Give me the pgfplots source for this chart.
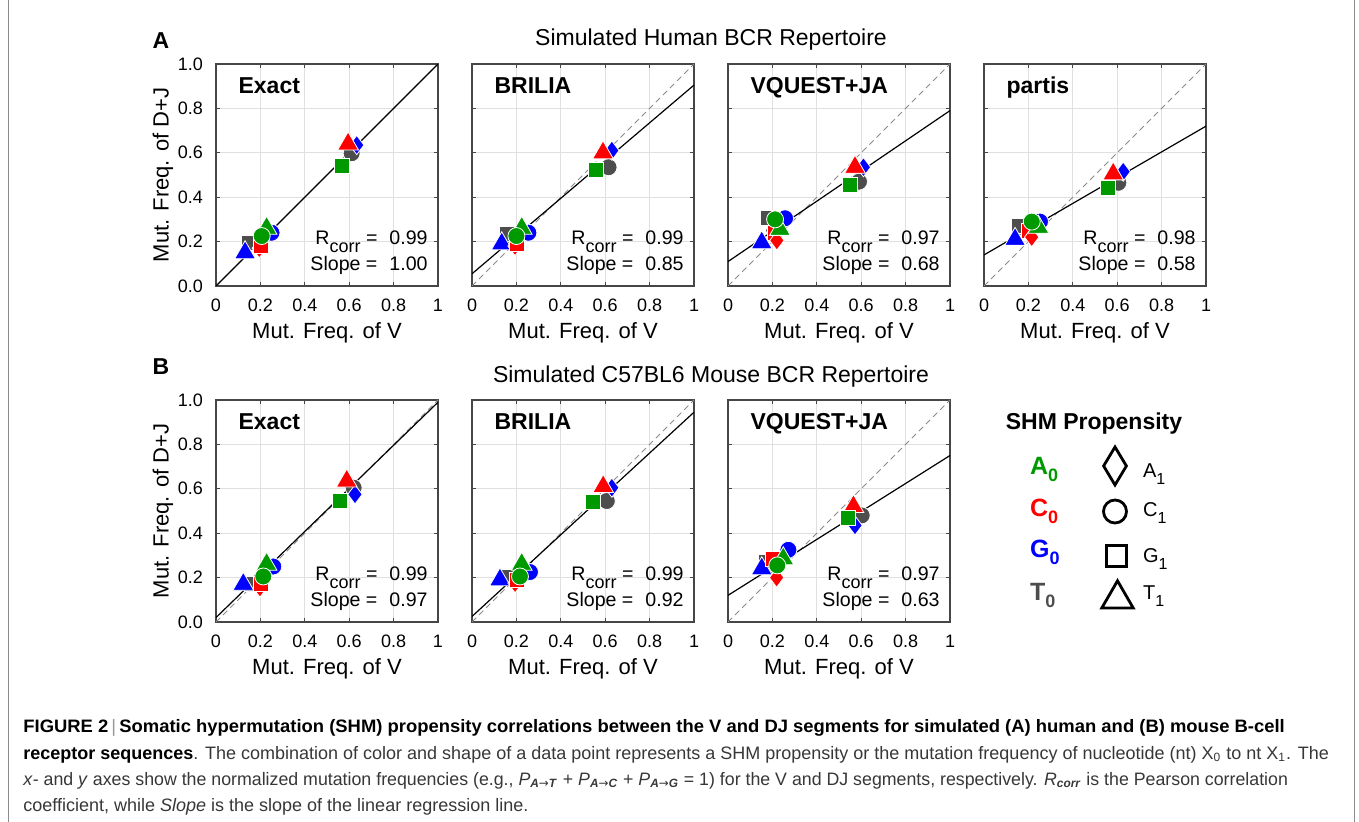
\documentclass[border=0pt]{standalone}
\usepackage{pgfplots}
\pgfplotsset{compat=1.18}
\usepackage{fontspec}
\setmainfont{Liberation Sans}
\newfontfamily\dejavu{DejaVu Sans}
\definecolor{cA}{RGB}{0,153,0}
\definecolor{cC}{RGB}{255,0,0}
\definecolor{cG}{RGB}{0,0,255}
\definecolor{cT}{RGB}{77,77,77}
\definecolor{axgray}{RGB}{70,70,70}
\definecolor{capgray}{RGB}{55,55,55}
\def\msC{4.25pt}
\def\msS{3.75pt}
\def\msD{4.8pt}
\def\msT{6pt}
\pgfplotsset{
  panel/.style={
    scale only axis, width=111pt, height=111pt, anchor=south west,
    xmin=0, xmax=1, ymin=0, ymax=1,
    xtick={0,0.2,0.4,0.6,0.8,1}, ytick={0,0.2,0.4,0.6,0.8,1},
    xticklabels={0,0.2,0.4,0.6,0.8,1}, yticklabels={},
    grid=major, major grid style={black!12, line width=0.5pt},
    axis line style={axgray, line width=0.6pt},
    major tick style={axgray, line width=0.5pt}, major tick length=2pt,
    tick label style={font=\fontsize{9}{10}\selectfont},
    xticklabel style={yshift=-3pt},
    yticklabel style={xshift=-3pt},
    /pgf/number format/assume math mode=true,
    xlabel={Mut. Freq. of V},
    label style={font=\fontsize{11}{12}\selectfont},
    xlabel style={at={(axis description cs:0.5,-0.212)}, anchor=center},
    ylabel style={at={(axis description cs:-0.239,0.5)}, anchor=center},
  },
  first/.style={yticklabels={0.0,0.2,0.4,0.6,0.8,1.0}, ylabel={Mut. Freq. of D+J}},
  refdash/.style={black!45, dash pattern=on 3pt off 2pt, line width=0.5pt, no marks, forget plot},
  reg/.style={black, line width=0.6pt, no marks, forget plot},
  shm/.style={only marks, scatter, scatter src=explicit symbolic,
    scatter/classes={
      AC={mark=*,mark size=\msC,draw=white,fill=cA,line width=0.4pt},
      AG={mark=square*,mark size=\msS,draw=white,fill=cA,line width=0.4pt},
      AT={mark=triangle*,mark size=\msT,draw=white,fill=cA,line width=0.4pt},
      CA={mark=diamond*,mark size=\msD,draw=white,fill=cC,line width=0.4pt},
      CG={mark=square*,mark size=\msS,draw=white,fill=cC,line width=0.4pt},
      CT={mark=triangle*,mark size=\msT,draw=white,fill=cC,line width=0.4pt},
      GA={mark=diamond*,mark size=\msD,draw=white,fill=cG,line width=0.4pt},
      GC={mark=*,mark size=\msC,draw=white,fill=cG,line width=0.4pt},
      GT={mark=triangle*,mark size=\msT,draw=white,fill=cG,line width=0.4pt},
      TA={mark=diamond*,mark size=\msD,draw=white,fill=cT,line width=0.4pt},
      TC={mark=*,mark size=\msC,draw=white,fill=cT,line width=0.4pt},
      TG={mark=square*,mark size=\msS,draw=white,fill=cT,line width=0.4pt}}},
}
\tikzset{
  pname/.style={anchor=base west, inner sep=0pt, font=\bfseries\fontsize{11.5}{12}\selectfont},
  stat/.style={anchor=base east, inner sep=0pt, font=\fontsize{9.8}{10}\selectfont},
}
\newcommand\Rc{R\raisebox{-4pt}{\fontsize{9}{9}\selectfont corr}}
\newcommand\arr{{\dejavu →}}
\begin{document}
\begin{tikzpicture}[x=0.5pt,y=-0.5pt]
\path[use as bounding box] (0,0) rectangle (1359,822);
\draw[black!45, line width=0.5pt] (8,-10) -- (8,830);
\draw[black!45, line width=0.5pt] (1354,-10) -- (1354,830);

\node[font=\bfseries\fontsize{11.5}{12}\selectfont] at (161,41) {A};
\node[font=\bfseries\fontsize{11.5}{12}\selectfont] at (161,367) {B};
\node[font=\fontsize{11.5}{12}\selectfont] at (711,40) {Simulated Human BCR Repertoire};
\node[font=\fontsize{11.5}{12}\selectfont] at (711,377) {Simulated C57BL6 Mouse BCR Repertoire};

% ---------- Human: Exact
\begin{axis}[panel, first, at={(108pt,-143pt)}]
\addplot[refdash] coordinates {(0,0) (1,1)};
\addplot[reg] coordinates {(0,0) (1,1)};
\addplot[shm] table[meta=c] {
x y c
0.20 0.20 TA
0.611 0.598 TC
0.15 0.195 TG
0.634 0.635 GA
0.25 0.24 GC
0.131 0.15 GT
0.195 0.17 CA
0.20 0.18 CG
0.595 0.64 CT
0.228 0.26 AT
0.206 0.225 AC
0.566 0.54 AG
};
\node[pname] at (rel axis cs:0.1,0.865) {Exact};
\node[stat] at (rel axis cs:0.955,0.188) {\Rc\ =\hspace{6pt}0.99};
\node[stat] at (rel axis cs:0.955,0.072) {Slope =\hspace{6pt}1.00};
\end{axis}

% ---------- Human: BRILIA
\begin{axis}[panel, at={(236pt,-143pt)}]
\addplot[refdash] coordinates {(0,0) (1,1)};
\addplot[reg] coordinates {(0,0.055) (1,0.905)};
\addplot[shm] table[meta=c] {
x y c
0.18 0.21 TA
0.615 0.535 TC
0.156 0.235 TG
0.63 0.61 GA
0.254 0.24 GC
0.134 0.19 GT
0.194 0.18 CA
0.20 0.19 CG
0.59 0.60 CT
0.224 0.26 AT
0.20 0.225 AC
0.56 0.525 AG
};
\node[pname] at (rel axis cs:0.1,0.865) {BRILIA};
\node[stat] at (rel axis cs:0.955,0.188) {\Rc\ =\hspace{6pt}0.99};
\node[stat] at (rel axis cs:0.955,0.072) {Slope =\hspace{6pt}0.85};
\end{axis}

% ---------- Human: VQUEST+JA
\begin{axis}[panel, at={(364pt,-143pt)}]
\addplot[refdash] coordinates {(0,0) (1,1)};
\addplot[reg] coordinates {(0,0.11) (1,0.79)};
\addplot[shm] table[meta=c] {
x y c
0.20 0.25 TA
0.59 0.47 TC
0.18 0.305 TG
0.61 0.535 GA
0.257 0.305 GC
0.152 0.195 GT
0.21 0.24 CG
0.22 0.205 CA
0.572 0.535 CT
0.234 0.255 AT
0.212 0.30 AC
0.55 0.455 AG
};
\node[pname] at (rel axis cs:0.1,0.865) {VQUEST+JA};
\node[stat] at (rel axis cs:0.955,0.188) {\Rc\ =\hspace{6pt}0.97};
\node[stat] at (rel axis cs:0.955,0.072) {Slope =\hspace{6pt}0.68};
\end{axis}

% ---------- Human: partis
\begin{axis}[panel, at={(492pt,-143pt)}]
\addplot[refdash] coordinates {(0,0) (1,1)};
\addplot[reg] coordinates {(0,0.14) (1,0.72)};
\addplot[shm] table[meta=c] {
x y c
0.19 0.25 TA
0.605 0.465 TC
0.155 0.27 TG
0.627 0.515 GA
0.252 0.29 GC
0.14 0.21 GT
0.20 0.25 CG
0.215 0.22 CA
0.582 0.505 CT
0.245 0.265 AT
0.215 0.29 AC
0.56 0.44 AG
};
\node[pname] at (rel axis cs:0.1,0.865) {partis};
\node[stat] at (rel axis cs:0.955,0.188) {\Rc\ =\hspace{6pt}0.98};
\node[stat] at (rel axis cs:0.955,0.072) {Slope =\hspace{6pt}0.58};
\end{axis}

% ---------- Mouse: Exact
\begin{axis}[panel, first, at={(108pt,-311pt)}]
\addplot[refdash] coordinates {(0,0) (1,1)};
\addplot[reg] coordinates {(0,0.02) (1,0.99)};
\addplot[shm] table[meta=c] {
x y c
0.18 0.18 TA
0.62 0.605 TC
0.16 0.17 TG
0.626 0.575 GA
0.258 0.25 GC
0.123 0.17 GT
0.198 0.155 CA
0.20 0.17 CG
0.589 0.635 CT
0.228 0.26 AT
0.213 0.205 AC
0.559 0.545 AG
};
\node[pname] at (rel axis cs:0.1,0.865) {Exact};
\node[stat] at (rel axis cs:0.955,0.188) {\Rc\ =\hspace{6pt}0.99};
\node[stat] at (rel axis cs:0.955,0.072) {Slope =\hspace{6pt}0.97};
\end{axis}

% ---------- Mouse: BRILIA
\begin{axis}[panel, at={(236pt,-311pt)}]
\addplot[refdash] coordinates {(0,0) (1,1)};
\addplot[reg] coordinates {(0,0.025) (1,0.945)};
\addplot[shm] table[meta=c] {
x y c
0.18 0.20 TA
0.607 0.545 TC
0.155 0.205 TG
0.63 0.605 GA
0.261 0.225 GC
0.126 0.19 GT
0.194 0.175 CA
0.20 0.19 CG
0.591 0.61 CT
0.224 0.26 AT
0.216 0.205 AC
0.546 0.54 AG
};
\node[pname] at (rel axis cs:0.1,0.865) {BRILIA};
\node[stat] at (rel axis cs:0.955,0.188) {\Rc\ =\hspace{6pt}0.99};
\node[stat] at (rel axis cs:0.955,0.072) {Slope =\hspace{6pt}0.92};
\end{axis}

% ---------- Mouse: VQUEST+JA
\begin{axis}[panel, at={(364pt,-311pt)}]
\addplot[refdash] coordinates {(0,0) (1,1)};
\addplot[reg] coordinates {(0,0.12) (1,0.75)};
\addplot[shm] table[meta=c] {
x y c
0.19 0.25 TA
0.602 0.48 TC
0.17 0.27 TG
0.572 0.435 GA
0.272 0.325 GC
0.152 0.24 GT
0.20 0.285 CG
0.219 0.20 CA
0.565 0.52 CT
0.249 0.285 AT
0.222 0.255 AC
0.542 0.47 AG
};
\node[pname] at (rel axis cs:0.1,0.865) {VQUEST+JA};
\node[stat] at (rel axis cs:0.955,0.188) {\Rc\ =\hspace{6pt}0.97};
\node[stat] at (rel axis cs:0.955,0.072) {Slope =\hspace{6pt}0.63};
\end{axis}

% ---------- Legend (hidden axis, pixel units)
\begin{axis}[at={(495pt,-310pt)}, anchor=south west, scale only axis,
  width=105pt, height=110pt, xmin=990, xmax=1200, ymin=-620, ymax=-400,
  hide axis, clip=false]
\addplot[black, line width=1.4pt, only marks, mark=diamond, mark size=9.5pt, mark options={xscale=0.8}] coordinates {(1115,-466)};
\addplot[black, line width=1.4pt, only marks, mark=o, mark size=5.75pt] coordinates {(1115,-511.5)};
\addplot[black, line width=1.4pt, only marks, mark=square, mark size=5.1pt] coordinates {(1116.5,-556)};
\addplot[black, line width=1.4pt, only marks, mark=triangle, mark size=9.1pt] coordinates {(1117.5,-599)};
\node[font=\bfseries\fontsize{11.5}{12}\selectfont] at (axis cs:1094,-424) {SHM Propensity};
\node[anchor=base west, font=\bfseries\fontsize{12.5}{13}\selectfont, text=cA] at (axis cs:1023,-475) {A\raisebox{-3.5pt}{\fontsize{9}{9}\selectfont 0}};
\node[anchor=base west, font=\bfseries\fontsize{12.5}{13}\selectfont, text=cC] at (axis cs:1023,-517) {C\raisebox{-3.5pt}{\fontsize{9}{9}\selectfont 0}};
\node[anchor=base west, font=\bfseries\fontsize{12.5}{13}\selectfont, text=cG] at (axis cs:1023,-558) {G\raisebox{-3.5pt}{\fontsize{9}{9}\selectfont 0}};
\node[anchor=base west, font=\bfseries\fontsize{12.5}{13}\selectfont, text=cT] at (axis cs:1023,-601) {T\raisebox{-3.5pt}{\fontsize{9}{9}\selectfont 0}};
\node[anchor=base west, font=\fontsize{10}{11}\selectfont] at (axis cs:1136,-478) {A\raisebox{-3.5pt}{\fontsize{8}{8}\selectfont 1}};
\node[anchor=base west, font=\fontsize{10}{11}\selectfont] at (axis cs:1136,-517) {C\raisebox{-3.5pt}{\fontsize{8}{8}\selectfont 1}};
\node[anchor=base west, font=\fontsize{10}{11}\selectfont] at (axis cs:1136,-563) {G\raisebox{-3.5pt}{\fontsize{8}{8}\selectfont 1}};
\node[anchor=base west, font=\fontsize{10}{11}\selectfont] at (axis cs:1136,-600) {T\raisebox{-3.5pt}{\fontsize{8}{8}\selectfont 1}};
\end{axis}

% ---------- Caption
\begin{scope}[every node/.style={anchor=base west, inner sep=0pt, font=\fontsize{9}{10}\selectfont, text=capgray}]
\node at (23,733) {\scalebox{1.024}[1]{\textcolor{black}{\textbf{FIGURE 2}}\,\textcolor{black!40}{|}\,\textcolor{black}{\textbf{Somatic hypermutation (SHM) propensity correlations between the V and DJ segments for simulated (A) human and (B) mouse B-cell}}}};
\node at (23,759) {\scalebox{1.0}[1]{\textcolor{black}{\textbf{receptor sequences}}. The combination of color and shape of a data point represents a SHM propensity or the mutation frequency of nucleotide (nt) X\textsubscript{0} to nt X\textsubscript{1}. The}};
\node at (23,785) {\scalebox{0.987}[1]{\textit{x}- and \textit{y} axes show the normalized mutation frequencies (e.g., \textit{P}\textsubscript{\textbf{\textit{A}}\arr\textbf{\textit{T}}} + \textit{P}\textsubscript{\textbf{\textit{A}}\arr\textbf{\textit{C}}} + \textit{P}\textsubscript{\textbf{\textit{A}}\arr\textbf{\textit{G}}} = 1) for the V and DJ segments, respectively. \textit{R}\textsubscript{\textbf{\textit{corr}}} is the Pearson correlation}};
\node at (23,811) {coefficient, while \textit{Slope} is the slope of the linear regression line.};
\end{scope}
\end{tikzpicture}
\end{document}
